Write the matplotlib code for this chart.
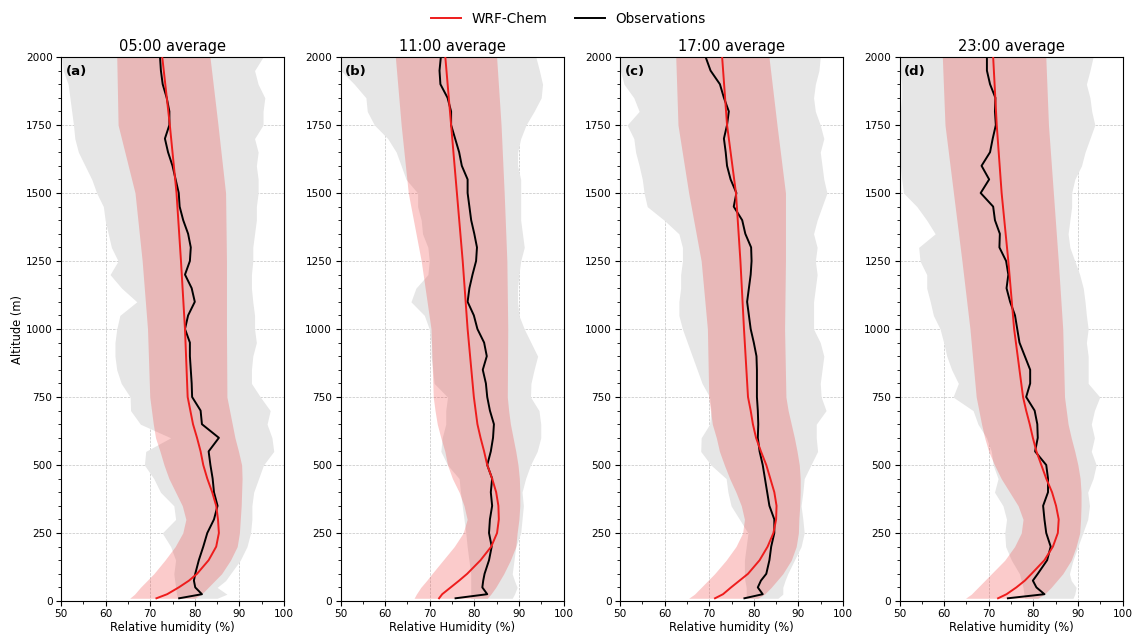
import numpy as np
import matplotlib
matplotlib.use("Agg")
import matplotlib.pyplot as plt
from matplotlib.ticker import MultipleLocator

# ---------------- data ----------------
obs_alt = [10, 25, 50, 75] + list(range(100, 2001, 50))
mod_alt = [10, 25, 50, 75, 100, 150, 200, 250, 300, 350, 400, 450, 500,
           550, 600, 650, 700, 750, 1000, 1250, 1500, 1750, 2000]

titles = ["05:00 average", "11:00 average", "17:00 average", "23:00 average"]
panel_labels = ["(a)", "(b)", "(c)", "(d)"]
xlabels = ["Relative humidity (%)", "Relative Humidity (%)",
           "Relative humidity (%)", "Relative humidity (%)"]

# Observations (mean, lower, upper)
obs_a = [76.5, 81.6, 80.1, 79.8, 80.1, 80.9, 81.9, 82.8, 84.3, 85.1, 84.3, 84.0, 83.5,
         83.1, 85.4, 81.6, 81.3, 79.4, 79.3, 79.1, 78.9, 78.9, 77.8, 78.5, 80.0, 79.3,
         77.8, 78.9, 79.1, 78.5, 77.4, 76.6, 76.4, 75.7, 75.0, 74.0, 73.3, 74.3, 74.3,
         73.7, 72.8, 72.4, 72.2]
obs_a_lo = [76.2, 75.9, 75.7, 75.5, 75.3, 75.7, 74.6, 72.7, 75.7, 75.3, 72.3, 70.8, 68.7,
            69.0, 74.6, 67.8, 65.6, 65.5, 63.5, 62.5, 62.1, 62.1, 62.5, 63.2, 67.0, 63.6,
            61.0, 62.8, 61.3, 60.6, 59.9, 59.5, 58.0, 56.9, 55.4, 53.9, 53.1, 52.8, 52.4,
            52.0, 51.6, 50.5, 50.2]
obs_a_hi = [85.0, 87.2, 85.0, 86.9, 88.0, 90.2, 91.7, 92.5, 92.8, 92.8, 93.2, 94.3, 95.4,
            97.7, 97.3, 96.2, 96.9, 94.7, 92.7, 92.7, 93.0, 93.8, 93.4, 93.4, 93.0, 92.7,
            92.7, 93.0, 93.0, 93.4, 93.8, 93.8, 94.2, 94.2, 93.8, 94.2, 93.4, 95.3, 95.3,
            95.7, 94.2, 93.4, 95.3]

obs_b = [75.8, 82.9, 81.8, 82.0, 82.3, 83.3, 83.9, 83.3, 83.5, 84.0, 83.7, 84.0, 82.9,
         83.7, 84.2, 84.4, 83.5, 82.9, 82.6, 81.9, 82.8, 82.2, 80.7, 79.9, 78.5, 78.9,
         79.6, 80.4, 80.6, 80.0, 79.3, 78.9, 78.5, 78.5, 77.2, 76.6, 75.7, 74.8, 74.8,
         74.0, 72.4, 72.2, 72.5]
obs_b_lo = [79.2, 79.2, 79.2, 79.2, 79.2, 78.8, 78.4, 78.1, 77.7, 77.3, 76.9, 76.6, 74.0,
            72.5, 72.8, 73.6, 73.6, 74.0, 71.0, 70.7, 70.3, 70.3, 69.9, 68.8, 65.8, 66.9,
            69.6, 69.9, 69.6, 68.4, 68.1, 67.3, 67.3, 64.7, 63.6, 62.5, 60.6, 57.6, 56.0,
            55.7, 53.1, 50.1, 50.0]
obs_b_hi = [88.5, 89.0, 89.6, 89.0, 88.5, 88.9, 89.3, 90.4, 90.7, 91.0, 90.7, 91.5, 92.6,
            94.1, 94.9, 94.9, 94.5, 92.6, 92.7, 93.4, 94.2, 92.7, 91.2, 90.0, 89.7, 89.7,
            90.0, 90.4, 91.2, 90.8, 90.4, 90.4, 90.4, 90.4, 89.7, 89.7, 90.4, 91.6, 93.4,
            95.0, 95.3, 94.6, 93.8]

obs_c = [77.9, 82.0, 80.9, 81.6, 82.8, 83.5, 83.9, 84.6, 84.6, 83.5, 83.0, 82.5, 82.0,
         81.3, 80.9, 81.0, 80.9, 80.7, 80.7, 80.7, 80.6, 80.0, 79.3, 78.9, 78.5, 78.9,
         79.3, 79.5, 79.4, 78.1, 77.4, 75.5, 76.1, 74.8, 74.0, 73.7, 73.3, 74.0, 74.4,
         73.3, 72.4, 70.3, 69.2]
obs_c_lo = [78.3, 78.3, 78.3, 78.0, 77.9, 77.9, 78.3, 78.7, 76.8, 74.9, 74.2, 73.8, 70.4,
            68.1, 68.2, 70.1, 70.4, 70.1, 68.4, 67.3, 66.2, 65.1, 64.0, 63.2, 63.2, 63.6,
            63.6, 64.0, 64.0, 63.2, 59.9, 56.1, 55.4, 55.0, 54.3, 53.5, 53.1, 51.6, 54.3,
            53.1, 50.9, 50.1, 50.0]
obs_c_hi = [85.4, 86.5, 86.5, 87.0, 87.6, 89.1, 90.6, 91.3, 91.0, 90.6, 91.0, 91.3, 92.8,
            94.3, 94.0, 94.0, 96.2, 95.1, 94.9, 95.3, 95.7, 94.9, 93.4, 93.4, 93.4, 93.8,
            94.2, 93.8, 94.2, 93.4, 94.2, 95.3, 96.4, 95.7, 95.3, 94.9, 95.7, 94.9, 93.8,
            93.4, 93.8, 94.6, 94.9]

obs_d = [74.3, 82.5, 80.7, 79.9, 81.0, 83.1, 83.9, 82.9, 82.5, 82.2, 83.3, 83.3, 82.9,
         80.4, 81.0, 80.9, 80.3, 78.4, 79.3, 79.3, 78.1, 76.9, 76.4, 75.9, 74.8, 74.0,
         74.4, 73.9, 72.4, 72.5, 71.4, 71.0, 68.2, 70.1, 68.4, 70.3, 70.9, 71.6, 71.4,
         71.5, 70.3, 69.6, 69.6]
obs_d_lo = [78.1, 77.9, 77.7, 77.3, 76.9, 75.1, 73.8, 73.6, 74.0, 73.2, 71.3, 72.1, 71.0,
            70.6, 69.5, 67.6, 66.5, 62.0, 63.2, 61.7, 60.6, 59.9, 59.1, 57.6, 56.9, 56.1,
            56.1, 54.6, 54.3, 58.0, 56.1, 53.9, 50.9, 50.5, 50.2, 50.2, 50.0, 50.0, 50.2,
            50.5, 50.5, 50.2, 50.0]
obs_d_hi = [88.9, 89.3, 89.6, 88.5, 88.1, 88.9, 90.0, 91.1, 92.2, 92.6, 92.2, 93.4, 94.1,
            93.0, 93.7, 93.0, 93.7, 94.9, 92.3, 92.3, 92.3, 91.9, 92.3, 91.9, 91.6, 91.2,
            90.4, 89.3, 88.2, 87.8, 88.2, 88.6, 88.6, 89.3, 90.8, 91.6, 92.7, 93.8, 93.1,
            92.7, 91.9, 92.7, 93.4]

# WRF-Chem (mean, lower, upper)
mod_a = [71.4, 73.8, 76.4, 78.7, 80.5, 83.1, 84.8, 85.4, 85.2, 84.8, 83.9, 82.8, 81.9,
         81.3, 80.5, 79.6, 79.0, 78.4, 77.8, 76.9, 75.9, 74.4, 72.7]
mod_a_lo = [65.4, 66.5, 67.8, 69.3, 70.8, 73.3, 75.6, 77.3, 78.0, 77.2, 75.7, 74.2, 73.1,
            72.2, 71.2, 70.7, 70.3, 69.9, 69.4, 68.2, 66.6, 62.8, 62.5]
mod_a_hi = [80.0, 81.5, 83.0, 84.5, 86.0, 88.0, 89.5, 90.0, 90.2, 90.4, 90.5, 90.6, 90.5,
            89.8, 89.0, 88.4, 87.8, 87.2, 87.1, 87.1, 86.9, 85.2, 83.4]

mod_b = [72.1, 72.8, 74.7, 76.6, 78.4, 81.4, 83.8, 85.1, 85.5, 85.4, 84.9, 84.0, 82.9,
         82.2, 81.4, 80.7, 80.3, 79.9, 78.5, 77.4, 76.1, 74.8, 73.5]
mod_b_lo = [66.5, 67.0, 68.0, 69.3, 70.5, 73.0, 75.5, 77.5, 78.4, 77.7, 76.6, 75.1, 74.0,
            73.4, 72.5, 71.7, 71.2, 70.8, 70.3, 68.1, 65.2, 63.6, 62.3]
mod_b_hi = [82.9, 83.7, 84.8, 85.7, 86.6, 88.1, 89.3, 89.6, 90.0, 90.2, 90.2, 90.1, 89.8,
            89.3, 88.7, 88.1, 87.7, 87.4, 87.5, 87.3, 86.7, 86.0, 85.0]

mod_c = [71.3, 73.1, 74.9, 76.8, 78.7, 81.3, 83.1, 84.4, 85.0, 85.1, 84.6, 83.7, 82.8,
         81.6, 80.5, 79.8, 79.3, 78.7, 77.8, 77.0, 76.0, 74.0, 72.9]
mod_c_lo = [65.4, 66.7, 68.2, 69.7, 71.2, 73.8, 76.0, 77.5, 77.9, 77.2, 76.0, 74.6, 73.4,
            72.3, 71.6, 70.7, 70.3, 69.9, 69.6, 68.2, 65.4, 63.0, 62.5]
mod_c_hi = [80.9, 82.4, 83.9, 85.2, 86.5, 88.4, 89.5, 90.0, 90.1, 90.3, 90.4, 90.4, 90.2,
            89.7, 89.1, 88.4, 87.7, 87.2, 86.9, 87.1, 87.1, 85.2, 83.4]

mod_d = [72.1, 74.0, 76.2, 78.1, 79.6, 82.5, 84.4, 85.5, 85.7, 85.1, 84.2, 82.9, 81.8,
         80.7, 79.9, 79.2, 78.4, 77.7, 75.7, 74.4, 72.9, 71.8, 71.0]
mod_d_lo = [64.8, 66.1, 67.6, 69.1, 70.6, 73.6, 75.8, 77.3, 77.7, 76.6, 74.7, 72.8, 71.3,
            70.0, 69.1, 68.4, 67.8, 67.2, 65.8, 64.0, 62.1, 60.2, 59.6]
mod_d_hi = [81.0, 82.5, 84.0, 85.3, 86.6, 88.5, 89.6, 90.4, 90.6, 90.7, 90.7, 90.5, 90.0,
            89.3, 88.5, 87.8, 87.4, 87.0, 86.6, 85.6, 84.5, 83.4, 82.8]

obs_sets = [(obs_a, obs_a_lo, obs_a_hi), (obs_b, obs_b_lo, obs_b_hi),
            (obs_c, obs_c_lo, obs_c_hi), (obs_d, obs_d_lo, obs_d_hi)]
mod_sets = [(mod_a, mod_a_lo, mod_a_hi), (mod_b, mod_b_lo, mod_b_hi),
            (mod_c, mod_c_lo, mod_c_hi), (mod_d, mod_d_lo, mod_d_hi)]

# ---------------- plot ----------------
plt.rcParams['font.family'] = ['DejaVu Sans']
fig = plt.figure(figsize=(11.37, 6.37), dpi=100)

left0 = 61 / 1137
width = 223 / 1137
step = 279.5 / 1137
bottom = 1 - 601 / 637
height = 544 / 637

handles = None
for i in range(4):
    ax = fig.add_axes([left0 + i * step, bottom, width, height])
    om, olo, ohi = obs_sets[i]
    mm, mlo, mhi = mod_sets[i]
    ax.fill_betweenx(obs_alt, olo, ohi, color='#e6e6e6', lw=0, zorder=1)
    ax.fill_betweenx(mod_alt, mlo, mhi, color='#f03030', alpha=0.25, lw=0, zorder=2)
    l1, = ax.plot(mm, mod_alt, color='#ee1c1c', lw=1.4, zorder=4, label='WRF-Chem')
    l2, = ax.plot(om, obs_alt, color='black', lw=1.4, zorder=3, label='Observations')
    handles = [l1, l2]

    ax.set_xlim(50, 100)
    ax.set_ylim(0, 2000)
    ax.xaxis.set_major_locator(MultipleLocator(10))
    ax.xaxis.set_minor_locator(MultipleLocator(5))
    ax.yaxis.set_major_locator(MultipleLocator(250))
    ax.yaxis.set_minor_locator(MultipleLocator(50))
    ax.grid(True, which='major', ls='--', lw=0.5, color='#c4c4c4', zorder=0)
    ax.set_axisbelow(True)
    ax.tick_params(axis='both', which='major', labelsize=7.6, length=3.5, pad=2.5)
    ax.tick_params(axis='both', which='minor', length=2)
    ax.set_title(titles[i], fontsize=10.5, pad=4)
    ax.set_xlabel(xlabels[i], fontsize=8.3, labelpad=1)
    ax.text(0.02, 0.985, panel_labels[i], transform=ax.transAxes, fontsize=9.5,
            fontweight='bold', va='top', ha='left', zorder=6)
    if i == 0:
        ax.set_ylabel('Altitude (m)', fontsize=8.3, labelpad=1)

fig.legend(handles, ['WRF-Chem', 'Observations'], loc='upper center',
           bbox_to_anchor=(0.5, 1.0), ncol=2, frameon=False, fontsize=9.8,
           handlelength=2.2, columnspacing=2.0)

fig.savefig('out.png', dpi=100)
